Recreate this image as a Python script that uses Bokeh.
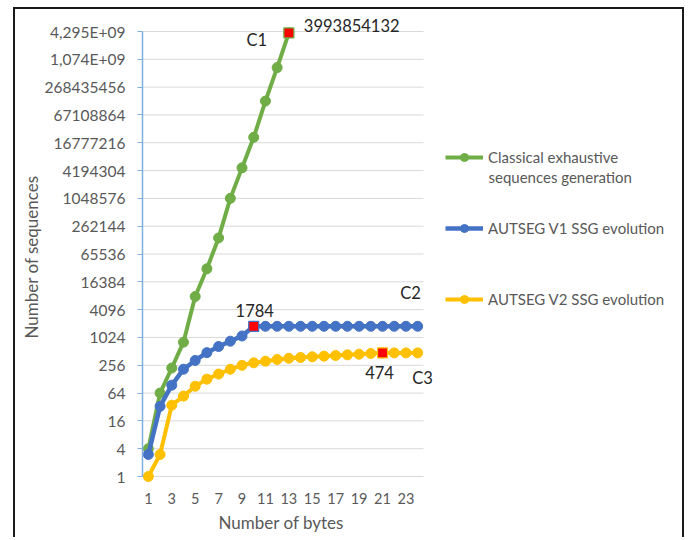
from bokeh.plotting import figure
from bokeh.models import FixedTicker, Legend, LegendItem, Label, Range1d, Title
from bokeh.embed import file_html
from bokeh.resources import INLINE

# ---- data ----
bytes_classic = [1, 2, 3, 4, 5, 6, 7, 8, 9, 10, 11, 12, 13]
classic = [4, 64, 223, 809, 7860, 31400, 146000, 1050000, 4800000,
           22000000, 134000000, 710000000, 3993854132]

bytes_v = [1, 2, 3, 4, 5, 6, 7, 8, 9, 10, 11, 12, 13, 14, 15, 16, 17, 18,
           19, 20, 21, 22, 23, 24]
v1 = [3, 33, 95, 210, 325, 480, 650, 850, 1100, 1784, 1784, 1784, 1784,
      1784, 1784, 1784, 1784, 1784, 1784, 1784, 1784, 1784, 1784, 1784]
v2 = [1, 3, 35, 55, 90, 128, 165, 210, 255, 289, 313, 341, 362, 377, 390,
      402, 416, 430, 444, 460, 474, 474, 474, 474]

y_ticks = [1, 4, 16, 64, 256, 1024, 4096, 16384, 65536, 262144, 1048576,
           4194304, 16777216, 67108864, 268435456, 1073741824, 4294967296]
y_tick_labels = ["1", "4", "16", "64", "256", "1024", "4096", "16384", "65536",
                 "262144", "1048576", "4194304", "16777216", "67108864",
                 "268435456", "1,074E+09", "4,295E+09"]
x_ticks = [1, 3, 5, 7, 9, 11, 13, 15, 17, 19, 21, 23]

# axis extents (category axis 1..24 with half-category padding)
x_lo, x_hi = 0.5, 24.5
y_lo, y_hi = 1, 4294967296

# highlighted points
hl_classic = (13, 3993854132)
hl_v1 = (10, 1784)
hl_v2 = (21, 474)

GREEN = "#70AD47"
BLUE = "#4472C4"
YELLOW = "#FFC000"
TXT = "#595959"
DARK = "#262626"
FONT = "Lato"

# ---- layout (pixels) ----
H = 530            # canvas height
TOP = 0            # frame top inside canvas
BOTTOM = 57        # bottom panel height
FRAME_H = H - TOP - BOTTOM
GRID_TOP = 22      # px from frame top to the highest gridline
GRID_BOTTOM = 6    # px from lowest gridline to frame bottom
step = (FRAME_H - GRID_TOP - GRID_BOTTOM) / 16.0   # px per factor 4
FRAME_W = 542
cat_px = 281 / 24.0

p = figure(width=671, height=H, y_axis_type="log",
           x_range=Range1d(x_lo, x_lo + FRAME_W / cat_px),
           y_range=Range1d(4 ** (-GRID_BOTTOM / step),
                           4 ** (16 + GRID_TOP / step)),
           output_backend="svg", toolbar_location=None,
           min_border_left=127, min_border_right=2,
           min_border_top=TOP, min_border_bottom=BOTTOM,
           styles={"border-left": "2px solid #1a1a1a",
                   "border-top": "2px solid #1a1a1a",
                   "border-right": "2px solid #1a1a1a",
                   "margin-left": "13px", "margin-top": "7px"})
p.outline_line_color = None
p.background_fill_color = "white"
p.border_fill_color = "white"

# gridlines (horizontal only, across the category extent)
p.xgrid.visible = False
p.ygrid.visible = False
p.segment(x0=[x_lo] * len(y_ticks), x1=[x_hi] * len(y_ticks),
          y0=y_ticks, y1=y_ticks, line_color="#D9D9D9", line_width=1)

# axes
p.yaxis.bounds = (y_lo, y_hi)
p.yaxis.ticker = FixedTicker(ticks=y_ticks)
p.yaxis.major_label_overrides = {t: l for t, l in zip(y_ticks, y_tick_labels)}
p.yaxis.axis_line_color = "#7FAEDB"
p.yaxis.axis_line_width = 1.5
p.yaxis.major_tick_line_color = "#7FAEDB"
p.yaxis.major_tick_out = 5
p.yaxis.major_tick_in = 0
p.yaxis.minor_tick_line_color = None
p.yaxis.major_label_standoff = 12
p.yaxis.major_label_text_font = FONT
p.yaxis.major_label_text_font_size = "15.5px"
p.yaxis.major_label_text_color = TXT

p.xaxis.bounds = (x_lo, x_hi)
p.xaxis.ticker = FixedTicker(ticks=x_ticks)
p.xaxis.axis_line_color = None
p.xaxis.major_tick_line_color = None
p.xaxis.minor_tick_line_color = None
p.xaxis.major_label_standoff = 4
p.xaxis.major_label_text_font = FONT
p.xaxis.major_label_text_font_size = "14.5px"
p.xaxis.major_label_text_color = TXT

# axis titles, centred on the axis extents
p.add_layout(Title(text="Number of sequences", align="left",
                   offset=GRID_BOTTOM + 138, standoff=0,
                   vertical_align="bottom", text_font=FONT,
                   text_font_size="17px", text_font_style="normal",
                   text_color=TXT), "left")
p.add_layout(Title(text="Number of bytes", align="left", offset=76,
                   standoff=6, vertical_align="bottom", text_font=FONT,
                   text_font_size="17px", text_font_style="normal",
                   text_color=TXT), "below")

# series
def series(xs, ys, color, lw):
    l = p.line(xs, ys, line_color=color, line_width=lw)
    c = p.scatter(xs, ys, marker="circle", size=10, fill_color=color,
                  line_color=color)
    return [l, c]

r_classic = series(bytes_classic, classic, GREEN, 4)
r_v1 = series(bytes_v, v1, BLUE, 4.5)
r_v2 = series(bytes_v, v2, YELLOW, 4)

for (hx, hy), col in ((hl_classic, GREEN), (hl_v1, BLUE), (hl_v2, YELLOW)):
    p.scatter([hx], [hy], marker="square", size=10, fill_color="#FF0000",
              line_color=col, line_width=1.2)

# legend
legend = Legend(items=[
    LegendItem(label="Classical exhaustive", renderers=r_classic),
    LegendItem(label="AUTSEG V1 SSG evolution", renderers=r_v1),
    LegendItem(label="AUTSEG V2 SSG evolution", renderers=r_v2),
], location=(303, GRID_BOTTOM + 167), margin=0, padding=0, spacing=51,
    glyph_width=38, glyph_height=20, label_height=20, label_standoff=5,
    label_text_font=FONT, label_text_font_size="15px",
    label_text_color=TXT, border_line_color=None,
    background_fill_alpha=0)
p.add_layout(legend, "center")

p.add_layout(Label(x=346, y=GRID_BOTTOM + 300, x_units="screen",
                   y_units="screen",
                   text="sequences generation", text_font=FONT,
                   text_font_size="15px", text_color=TXT,
                   text_baseline="middle", text_align="left"))

# data labels
def dlabel(x, y, text, dx, dy, align="center"):
    p.add_layout(Label(x=x, y=y, text=text, x_offset=dx, y_offset=dy,
                       text_font=FONT, text_font_size="16.5px",
                       text_color=DARK, text_align=align,
                       text_baseline="middle"))

dlabel(hl_classic[0], hl_classic[1], "3993854132", 15, 7, align="left")
dlabel(hl_classic[0], hl_classic[1], "C1", -32, -7)
dlabel(hl_v1[0], hl_v1[1], "1784", 1, 16)
dlabel(bytes_v[-1], v1[-1], "C2", -7, 33)
dlabel(hl_v2[0], hl_v2[1], "474", -3, -20)
dlabel(bytes_v[-1], v2[-1], "C3", 5, -25)

open("out.html", "w").write(file_html(p, INLINE))
